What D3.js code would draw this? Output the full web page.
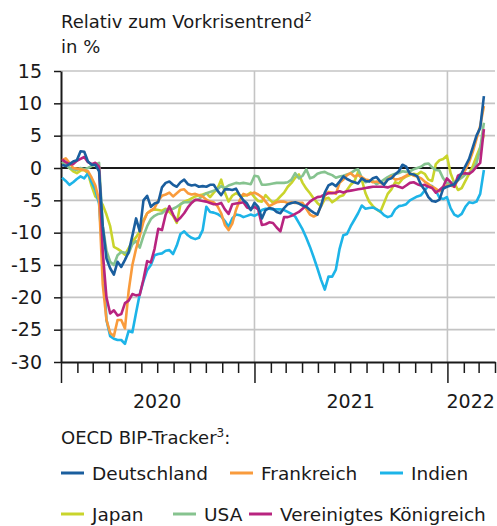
<!DOCTYPE html>
<html><head><meta charset="utf-8">
<script src="https://cdn.jsdelivr.net/npm/d3@7"></script>
<style>
body{margin:0;background:#fff}
svg{display:block}
text{font-family:"DejaVu Sans",sans-serif;fill:#1a1a1a}
</style>
</head><body>
<svg id="chart" width="497" height="526"></svg>
<script>
// ---- data (weekly readings, first week ending 2020-01-03) ----
const firstWeek = "2020-01-03";
const deutschland = [0.5,0.3,0.6,1.0,1.2,2.6,2.5,1.0,0.5,0.5,
 -0.5,-9,-14,-15.5,-16.5,-14.5,-15.3,-14.2,-13,-10.5,
 -7.8,-9.8,-5,-4.3,-6,-5.5,-5.3,-3,-2.3,-2.1,
 -2.6,-2.9,-2.2,-1.8,-2.5,-2.7,-2.6,-2.9,-2.8,-2.9,
 -2.6,-2.6,-3.5,-4.2,-3.3,-3.3,-3.4,-3.2,-4.2,-5,
 -5.5,-6.5,-5.4,-6,-7.8,-6.5,-6.2,-6.3,-6.8,-7,
 -6.2,-5.6,-5.4,-5.3,-5.5,-5.8,-6,-6.5,-6.9,-7.2,
 -5.8,-3.8,-2.7,-2.4,-2.8,-2.1,-1.3,-1.7,-2,-2.2,
 -2.4,-1.6,-2,-2.1,-1.6,-1.4,-2.1,-2.6,-1.8,-1.6,
 -1,-0.5,0.5,0.2,-0.9,-1,-1.3,-2.6,-3.4,-4.5,
 -5.1,-5.2,-4.9,-3.2,-2.9,-2.7,-2.5,-1.8,-0.8,0.3,
 1.4,3.2,5,6.2,11.1];
const frankreich = [1.2,1.5,0.8,0,-0.1,-0.2,-0.3,-0.5,-1.5,-2.7,
 -5,-18,-23.5,-25.5,-26,-23.5,-23.5,-24.8,-19,-15,
 -12.5,-10.5,-8.3,-7,-6.6,-6.2,-5,-4.3,-4.1,-3.8,
 -4.4,-3.9,-3.4,-3.3,-3.9,-4.1,-4,-4.2,-4.4,-4.9,
 -5.2,-5.3,-5.9,-7,-8.8,-9.6,-8.6,-6.5,-5,-4,
 -4.2,-4,-3.8,-4.1,-4.5,-5.2,-5.9,-5.6,-5.3,-5.2,
 -5.2,-5.4,-5.3,-5.4,-5.4,-5.4,-6.3,-7.2,-7.5,-7.2,
 -5.8,-4.3,-3.7,-3.8,-4,-2.3,-1.8,-1.1,-0.8,-1.3,
 -1.1,-1.4,-1.8,-1.9,-2.2,-2.1,-2.3,-2.5,-1.8,-1.3,
 -1.8,-1.7,-1.5,-1.2,-0.8,-1.2,-1.3,-1.6,-2.1,-2.5,
 -2.9,-3.2,-3.6,-3.2,-2.7,-2.7,-2.9,-1.8,-1,-0.3,
 0.9,2.5,4.5,6.5,9.6];
const indien = [-1.5,-2,-2.6,-2.2,-1.7,-1.3,-1.6,-0.8,-2.2,-3.4,
 -5.5,-14,-23.5,-26,-26.4,-26.6,-26.6,-27.2,-25.2,-25.4,
 -22.4,-19.5,-17.5,-15.8,-15,-13.5,-13.3,-13.2,-12.8,-12.7,
 -13.3,-12,-10.2,-9.8,-10.4,-10.8,-11,-10.8,-9.6,-6,
 -6.8,-6.9,-7.1,-7.5,-8.2,-9.1,-7.8,-7.2,-7.3,-7.6,
 -7.4,-7.2,-7.4,-7.1,-6.5,-6.3,-6.3,-6.4,-6.4,-6.4,
 -6.5,-6.8,-7.1,-7.5,-8.5,-9.5,-10.8,-12.2,-13.8,-15.5,
 -17.3,-18.8,-16.8,-16.8,-15.7,-12.5,-10.4,-10.2,-9,-8,
 -7,-5.8,-6.3,-6.2,-6.1,-6.4,-6.7,-7.3,-7.6,-7.4,
 -6.4,-5.9,-5.8,-5.6,-5,-4.7,-4.4,-4.2,-3.5,-2.7,
 -2.8,-3.5,-4.6,-4.8,-4.5,-6.2,-7.2,-7.5,-7.1,-6,
 -5.3,-5.4,-5.2,-4,-0.3];
const japan = [0.8,0.6,0,-0.5,-0.8,-0.4,-0.3,-0.8,-2.8,-4.4,
 -4.9,-5.7,-7.2,-9,-12.2,-12.5,-12.9,-13.4,-12.4,-11.4,
 -10.7,-9.8,-8.1,-7,-6.6,-6.4,-6.5,-6.6,-6.3,-6.8,
 -7.4,-8.5,-5.6,-5.2,-5.0,-4.7,-4.4,-4.2,-4.1,-3.9,
 -4.5,-3.8,-3.2,-1.8,-3.8,-5.2,-4.3,-3.9,-4.2,-4.3,
 -4.2,-3.8,-4.5,-5.1,-5.2,-4.2,-4.8,-5.4,-5,-4.4,
 -3.8,-2.9,-2.3,-1.5,-1,-2.3,-3.2,-3.9,-4.7,-5.4,
 -5.9,-4.8,-4.6,-5.3,-4.9,-4.4,-4.2,-3.4,-2.6,-2.1,
 -0.6,-1.8,-3.9,-5.2,-5.9,-6.4,-6.8,-5.4,-4,-3.3,
 -2.2,-2.4,-1.7,-1.3,-1.1,-0.9,-1,-0.6,-0.9,-1.8,
 -2.0,0.6,1.2,1.4,1.9,-0.8,-2.3,-3.4,-3.1,-2,
 -0.9,0.3,1.8,3.2,5.2];
const usa = [1,0.5,0,-0.2,-0.3,0,-0.2,0,0.3,0.5,
 0.8,-9,-12.8,-14.5,-15,-13.5,-13,-13.1,-13.2,-11.8,
 -11.3,-12.3,-10.5,-9,-7.9,-7.4,-7.1,-7,-6.5,-6.4,
 -6.3,-6,-5.6,-5.3,-5.3,-5.2,-5,-4.8,-4.3,-3.9,
 -3.7,-3.5,-3.3,-2.8,-3.1,-2.7,-2.5,-2.3,-2.4,-2.3,
 -2.4,-2.5,-1.2,-1.3,-2.6,-2.6,-2.5,-2.4,-2.3,-2.3,
 -2.3,-2.2,-1.8,-0.8,-1.6,-1.2,-0.2,-1.6,-1.4,-0.9,
 -0.7,-0.6,-0.9,-1.1,-1.5,-1.3,-1.2,-1,-0.8,-0.4,
 -0.2,-1.5,-2.2,-1.9,-2,-2.5,-2.2,-1.8,-1.4,-1.1,
 -0.9,-0.8,-0.5,-0.6,-0.5,-0.2,0,0.2,0.6,0.7,
 0.1,-0.3,-0.4,-1.6,-2.4,-2.3,-2.2,-1.9,-1.5,-1,
 -0.8,-0.4,0.8,3,7];
const vereinigtesKoenigreich = [1.3,0.9,0.6,0.6,1.1,1.4,1.7,0.9,0.6,0.8,
 0.2,-13,-20,-22.5,-22,-22.8,-22.6,-20.9,-20.5,-19.5,
 -19.7,-19.6,-17.2,-14.4,-14.6,-12.5,-9.4,-9.6,-7.2,-5.9,
 -7.2,-8.2,-7.7,-7,-6.1,-5.4,-4.9,-5,-5.1,-5.2,
 -5.4,-5.6,-5.6,-5.4,-6.4,-7.1,-5.6,-5.5,-5.4,-5.3,
 -6.1,-6.3,-6,-6.4,-8.8,-8.7,-8.4,-8.5,-9.2,-9.8,
 -7.6,-7.6,-7.4,-7.1,-6.8,-6.3,-5.8,-5.2,-4.8,-4.5,
 -4.4,-4.1,-3.9,-3.9,-3.8,-3.6,-3.8,-3.6,-3.5,-3.4,
 -3.3,-3.2,-3.1,-3,-2.9,-2.9,-2.9,-2.9,-3,-2.8,
 -2.7,-2.9,-3.1,-2.7,-2.3,-2.2,-2.5,-2.7,-2.6,-2.9,
 -3.1,-3.8,-3.4,-2.9,-1.6,-2.2,-2.9,-1.2,-0.9,-0.8,
 -0.9,-0.5,0.2,0.8,6];

const seriesNames = ["Deutschland","Frankreich","Indien","Japan","USA","Vereinigtes Königreich"];
const seriesColors = ["#1a5e9e","#f99b3c","#1db4e8","#c9d42c","#86c38f","#b8247f"];
const seriesValues = [deutschland, frankreich, indien, japan, usa, vereinigtesKoenigreich];
const yTicks = [15,10,5,0,-5,-10,-15,-20,-25,-30];
const yTickLabels = ["15","10","5","0","-5","-10","-15","-20","-25","-30"];
const yearLabels = ["2020","2021","2022"];
const yearLabelDates = ["2020-07-01","2021-07-02","2022-02-14"];
const yearBoundaries = ["2021-01-01","2022-01-01"];
const axisStart = "2020-01-01", axisEnd = "2022-04-01";

// ---- drawing ----
(function () {
const svg = d3.select("#chart");
const parse = d3.utcParse("%Y-%m-%d");
const pL = 61, pR = 495, pT = 71, pB = 362;

const x = d3.scaleUtc().domain([parse(axisStart), parse(axisEnd)]).range([pL, pR]);
const y = d3.scaleLinear().domain([-30, 15]).range([pB, pT]);

const t0 = parse(firstWeek);
const dates = deutschland.map((_, i) => d3.utcDay.offset(t0, 7 * i));

// gridlines
const g = svg.append("g");
g.append("g").selectAll("line").data(yTicks.filter(v => v !== 0 && v !== -30)).join("line")
  .attr("x1", pL).attr("x2", pR)
  .attr("y1", d => y(d)).attr("y2", d => y(d))
  .attr("stroke", "#c4c4c4").attr("stroke-width", 1.6);
g.append("g").selectAll("line").data(yearBoundaries).join("line")
  .attr("x1", d => x(parse(d))).attr("x2", d => x(parse(d)))
  .attr("y1", pT).attr("y2", pB)
  .attr("stroke", "#c4c4c4").attr("stroke-width", 1.6);

// zero line
svg.append("line").attr("x1", pL).attr("x2", pR)
  .attr("y1", y(0)).attr("y2", y(0)).attr("stroke", "#1a1a1a").attr("stroke-width", 2);

// y axis
const yAxis = svg.append("g").attr("transform", `translate(${pL},0)`)
  .call(d3.axisLeft(y).tickValues(yTicks).tickSize(7).tickSizeOuter(0).tickPadding(12)
    .tickFormat((d, i) => yTickLabels[i]));
yAxis.select(".domain").attr("stroke", "#1a1a1a").attr("stroke-width", 2);
yAxis.selectAll(".tick line").attr("stroke", "#1a1a1a").attr("stroke-width", 1.5);
yAxis.selectAll(".tick text").attr("font-size", 19).attr("font-family", "DejaVu Sans").attr("fill", "#1a1a1a");

// x axis
const xAxis = svg.append("g").attr("transform", `translate(0,${pB})`)
  .call(d3.axisBottom(x).ticks(d3.utcMonth.every(1)).tickSize(11).tickSizeOuter(0).tickFormat(""));
xAxis.select(".domain").attr("stroke", "#1a1a1a").attr("stroke-width", 2);
xAxis.selectAll(".tick line").attr("stroke", "#1a1a1a").attr("stroke-width", 1.5)
  .attr("y2", d => d.getUTCMonth() === 0 ? 21 : 11);

svg.append("g").selectAll("text").data(yearLabels).join("text")
  .attr("x", (d, i) => x(parse(yearLabelDates[i]))).attr("y", 408)
  .attr("text-anchor", "middle").attr("font-size", 19).text(d => d);

// lines
const line = d3.line().x((d, i) => x(dates[i])).y(d => y(d)).curve(d3.curveLinear);
const drawOrder = [3, 4, 2, 1, 5, 0];
svg.append("g").selectAll("path").data(drawOrder).join("path")
  .attr("d", k => line(seriesValues[k]))
  .attr("fill", "none").attr("stroke", k => seriesColors[k])
  .attr("stroke-width", 2.6).attr("stroke-linejoin", "round");

// title
const title = svg.append("text").attr("x", pL).attr("y", 28).attr("font-size", 18);
title.append("tspan").text("Relativ zum Vorkrisentrend");
title.append("tspan").attr("font-size", 12).attr("dy", -7).text("2");
svg.append("text").attr("x", pL).attr("y", 53).attr("font-size", 18).text("in %");

// legend
const lt = svg.append("text").attr("x", pL).attr("y", 444).attr("font-size", 18);
lt.append("tspan").text("OECD BIP-Tracker");
lt.append("tspan").attr("font-size", 12).attr("dy", -7).text("3");
lt.append("tspan").attr("dy", 7).text(":");

const legendPos = [[61, 473], [230, 473], [380, 473], [61, 514], [173, 514], [249, 514]];
const leg = svg.append("g").selectAll("g").data(seriesNames).join("g")
  .attr("transform", (d, i) => `translate(${legendPos[i][0]},${legendPos[i][1]})`);
leg.append("line").attr("x1", 0).attr("x2", 23).attr("y1", 0).attr("y2", 0)
  .attr("stroke", (d, i) => seriesColors[i]).attr("stroke-width", 3);
leg.append("text").attr("x", 31).attr("y", 7).attr("font-size", 18.5).text(d => d);
})();
</script>
</body></html>
